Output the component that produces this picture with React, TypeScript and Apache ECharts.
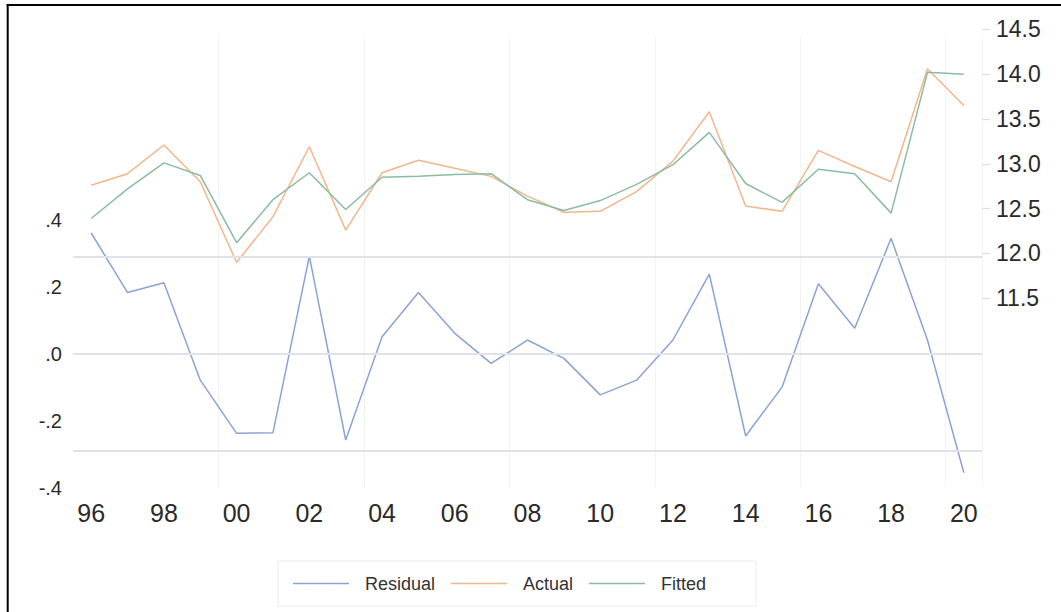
import React, { useEffect, useRef } from 'react';
import * as echarts from 'echarts';

const years = ['96','97','98','99','00','01','02','03','04','05','06','07','08','09','10','11','12','13','14','15','16','17','18','19','20'];
const residual = [0.361,0.183,0.212,-0.079,-0.238,-0.236,0.292,-0.258,0.051,0.183,0.061,-0.029,0.041,-0.014,-0.123,-0.079,0.041,0.238,-0.246,-0.100,0.209,0.076,0.345,0.041,-0.356];
const actual = [12.76,12.89,13.21,12.80,11.90,12.41,13.19,12.26,12.90,13.04,12.95,12.86,12.64,12.46,12.47,12.69,13.03,13.58,12.53,12.47,13.15,12.97,12.80,14.06,13.65];
const fitted = [12.39,12.72,13.01,12.87,12.12,12.60,12.90,12.49,12.85,12.86,12.88,12.89,12.60,12.48,12.59,12.77,12.99,13.35,12.78,12.57,12.94,12.89,12.45,14.02,14.00];
const leftTicks = [-0.4,-0.2,0,0.2,0.4];
const rightTicks = [11.5,12.0,12.5,13.0,13.5,14.0,14.5];
const seBand = [0,0.295,-0.295];

const FONT = '"Liberation Sans", Arial, sans-serif';

export default function App() {
  const ref = useRef<HTMLDivElement>(null);
  useEffect(() => {
    const chart = echarts.init(ref.current!, null, { renderer: 'svg' });
    const option: any = {
      animation: false,
      backgroundColor: '#ffffff',
      textStyle: { fontFamily: FONT },
      grid: [
        { left: 73, right: 79, top: 37, bottom: 124.5 },
        { left: 73, right: 79, top: 29.3, bottom: 134.35 },
      ],
      xAxis: [
        {
          type: 'category', gridIndex: 0, data: years, boundaryGap: true,
          axisLine: { show: false }, axisTick: { show: false },
          axisLabel: { interval: 1, fontSize: 25, color: '#2a2a2a', margin: 13, fontFamily: FONT },
          splitLine: { show: true, interval: (i: number) => i % 4 === 0 && i > 0 && i < 25, lineStyle: { color: '#f3f3f3', width: 1 } },
        },
        {
          type: 'category', gridIndex: 1, data: years, boundaryGap: true, show: false,
          axisLine: { show: false }, axisTick: { show: false }, axisLabel: { show: false }, splitLine: { show: false },
        },
      ],
      yAxis: [
        {
          type: 'value', gridIndex: 0, position: 'left', min: -0.4, max: 0.947,
          axisLine: { show: false }, axisTick: { show: false }, splitLine: { show: false },
          axisLabel: {
            customValues: leftTicks, fontSize: 20, color: '#2a2a2a', margin: 11, fontFamily: FONT,
            formatter: (v: number) => {
              const r = Math.round(v * 10) / 10;
              if (r === 0) return '.0';
              return (r < 0 ? '-' : '') + Math.abs(r).toFixed(1).replace(/^0/, '');
            },
          },
        },
        {
          type: 'value', gridIndex: 1, position: 'right', min: 9.5, max: 14.5,
          axisLine: { show: false }, splitLine: { show: false },
          axisTick: { show: true, customValues: rightTicks, length: 8, lineStyle: { color: '#dedede', width: 1.2 } },
          axisLabel: {
            customValues: rightTicks, fontSize: 23, color: '#2a2a2a', margin: 14, fontFamily: FONT,
            formatter: (v: number) => v.toFixed(1),
          },
        },
      ],
      legend: {
        data: ['Residual', 'Actual', 'Fitted'],
        left: 278, top: 561,
        icon: 'rect',
        itemWidth: 56, itemHeight: 1.6, itemGap: 16,
        padding: [12, 50, 12, 15],
        borderColor: '#ececec', borderWidth: 1,
        textStyle: { fontSize: 18, color: '#333', padding: [0, 0, 0, 11], fontFamily: FONT, lineHeight: 21 },
      },
      series: [
        {
          name: 'Residual', type: 'line', xAxisIndex: 0, yAxisIndex: 0, data: residual,
          symbol: 'none', lineStyle: { color: '#8aa3d6', width: 1.5 }, itemStyle: { color: '#8aa3d6' },
          markLine: {
            silent: true, symbol: 'none', label: { show: false },
            lineStyle: { color: '#dfe2e8', width: 2, type: 'solid' },
            data: seBand.map((v) => ({ yAxis: v })),
          },
          z: 3,
        },
        {
          name: 'Actual', type: 'line', xAxisIndex: 1, yAxisIndex: 1, data: actual,
          symbol: 'none', lineStyle: { color: '#f3b68c', width: 1.5 }, itemStyle: { color: '#f3b68c' }, z: 3,
        },
        {
          name: 'Fitted', type: 'line', xAxisIndex: 1, yAxisIndex: 1, data: fitted,
          symbol: 'none', lineStyle: { color: '#8cbba3', width: 1.5 }, itemStyle: { color: '#8cbba3' }, z: 4,
        },
      ],
      graphic: [
        { type: 'line', shape: { x1: 6.7, y1: 5, x2: 1061, y2: 5 }, style: { stroke: '#000', lineWidth: 2 }, z: 100 },
        { type: 'line', shape: { x1: 7.7, y1: 4, x2: 7.7, y2: 612 }, style: { stroke: '#000', lineWidth: 2 }, z: 100 },
      ],
    };
    chart.setOption(option);
    return () => chart.dispose();
  }, []);
  return (
    <div
      ref={ref}
      style={{ position: 'fixed', left: 0, top: 0, width: 1061, height: 612, background: '#fff' }}
    />
  );
}
